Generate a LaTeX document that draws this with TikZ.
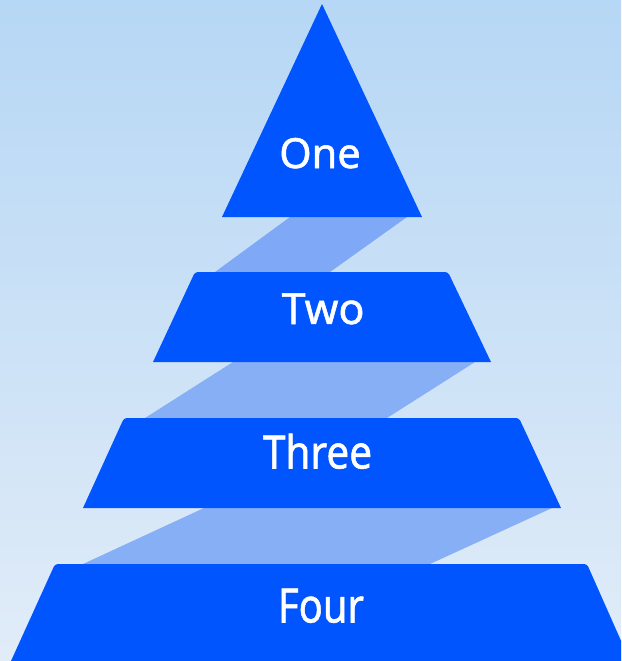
\documentclass[tikz,border=0pt]{standalone}
\usepackage{fontspec}
\setmainfont[FakeBold=1.2]{Noto Sans}
\definecolor{bgtop}{HTML}{B6D7F5}
\definecolor{bgbot}{HTML}{E1ECF8}
\definecolor{tier}{HTML}{0055FF}
\definecolor{band}{HTML}{7FA9F7}
\definecolor{bandlow}{HTML}{86AFF6}
\tikzset{
  tierfill/.style={fill=tier},
  bandfill/.style={fill=band},
  label/.style={text=white, anchor=base, inner sep=0pt}
}
\begin{document}
\begin{tikzpicture}[x=1pt,y=-1pt]
\useasboundingbox (0,0) rectangle (621,661);
\shade[top color=bgtop, bottom color=bgbot] (0,0) rectangle (621,661);
\clip (0,0) rectangle (621,661);
% connecting bands
\fill[bandfill] (290,217) -- (407,217) -- (330,272) -- (215,272) -- cycle;
\fill[fill=bandlow] (233,362) -- (475,362) -- (387,418) -- (145,418) -- cycle;
\fill[fill=bandlow] (204,508) -- (552,508) -- (430,564) -- (83,564) -- cycle;
% tiers
\fill[tierfill] (222,217) -- (322,4) -- (422,217) -- cycle;
\fill[tierfill] (153,362) [rounded corners=3pt] -- (195,272) -- (448,272) [sharp corners] -- (491,362) -- cycle;
\fill[tierfill] (83,508) [rounded corners=3pt] -- (124,418) -- (519,418) [sharp corners] -- (561,508) -- cycle;
\fill[tierfill] (11,661) [rounded corners=3pt] -- (55,564) -- (587,564) [sharp corners] -- (630,661) -- cycle;
% labels
\node[label, font=\fontsize{41.5}{48}\selectfont] (one) at (320,168) {One};
\node[label, font=\fontsize{43}{50}\selectfont] (two) at (323,324) {Two};
\node[label, font=\fontsize{46}{54}\selectfont, xscale=0.88] (three) at (317.5,468.5) {Three};
\node[label, font=\fontsize{47.5}{56}\selectfont, xscale=0.84] (four) at (321,622.5) {Four};
\end{tikzpicture}
\end{document}
